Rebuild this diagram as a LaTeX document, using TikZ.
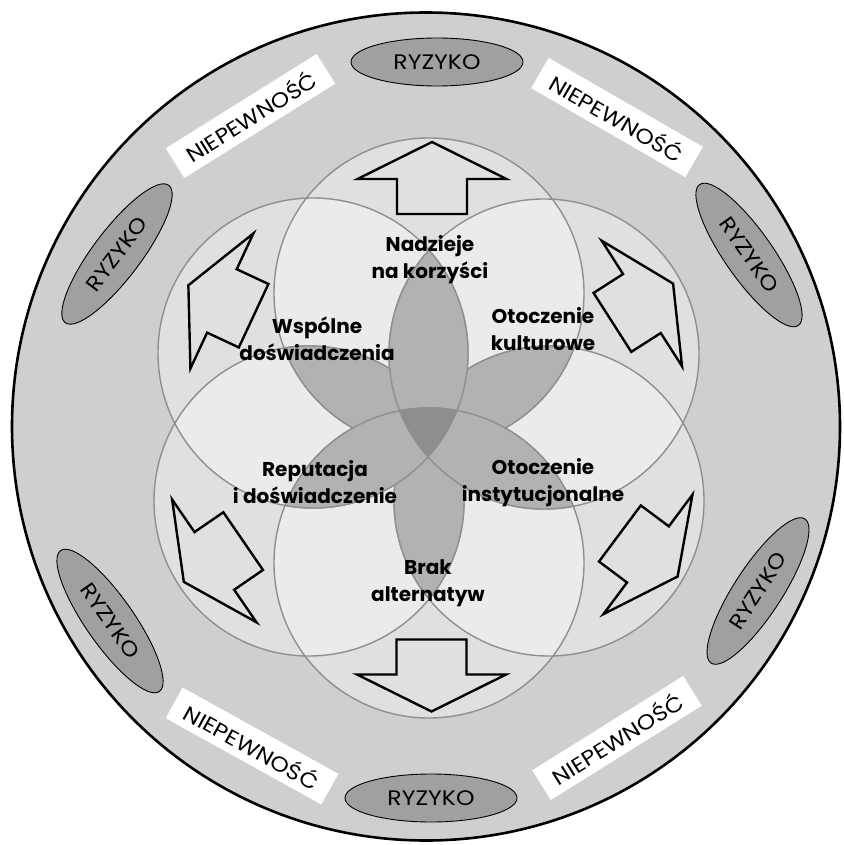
\documentclass[tikz,border=0pt]{standalone}
\usepackage{fontspec}
\setmainfont{Poppins}
\usetikzlibrary{shapes.geometric}

\definecolor{ringgray}{HTML}{CFCFCF}
\definecolor{petalone}{HTML}{E0E0E0}
\definecolor{petaltwo}{HTML}{EBEBEB}
\definecolor{lensgray}{HTML}{B2B2B2}
\definecolor{coregray}{HTML}{8E8E8E}
\definecolor{rimgray}{HTML}{8F8F8F}
\definecolor{riskgray}{HTML}{A0A0A0}

\newcommand{\petalrad}{155pt}
% ring captions: slightly widened capitals
\newcommand{\ringtext}[1]{\scalebox{1.12}[1]{#1}}

\tikzset{
  ringfill/.style={fill=ringgray, draw=black, line width=2.6pt},
  single/.style={fill=petalone},
  double/.style={fill=petaltwo},
  rim/.style={draw=rimgray, line width=1.4pt},
  lens/.style={fill=lensgray},
  core/.style={fill=coregray},
  arrowline/.style={draw=black, line width=2.4pt, line join=miter},
  lbl/.style={font=\bfseries\fontsize{20}{27}\selectfont, align=center, inner sep=0pt},
  riskbox/.style={shape=ellipse, draw=black, line width=0.9pt, fill=riskgray,
    minimum width=172pt, minimum height=48pt, inner sep=0pt,
    font=\fontsize{21}{24}\selectfont},
  doubtbox/.style={fill=white, minimum width=178pt, minimum height=35pt,
    inner sep=0pt, font=\fontsize{21}{24}\selectfont},
  pics/outarrow/.style={code={
    \draw[arrowline] (36,0) -- (-1,74.5) -- (-1,35) -- (-36,35) -- (-36,-35)
      -- (-1,-35) -- (-1,-74.5) -- cycle;}},
}

\begin{document}
\begin{tikzpicture}[x=1pt, y=-1pt]
  \useasboundingbox (0,0) rectangle (843,845);
  \fill[white] (0,0) rectangle (843,845);

  % outer ring
  \coordinate (mid) at (426,426.5);
  \draw[ringfill] (mid) circle[radius=414pt];

  % centres of the six circles
  \coordinate (cT)  at (429,293);
  \coordinate (cB)  at (429,563);
  \coordinate (cUL) at (313,353);
  \coordinate (cUR) at (544,354);
  \coordinate (cLL) at (309,501);
  \coordinate (cLR) at (549,501);

  % single cover
  \foreach \c in {cT,cUR,cLR,cB,cLL,cUL}
    \fill[single] (\c) circle[radius=\petalrad];
  % overlaps of two circles
  \foreach \a/\b in {cT/cUR, cT/cLR, cT/cB, cT/cLL, cT/cUL, cUR/cLR, cUR/cB,
      cUR/cLL, cUR/cUL, cLR/cB, cLR/cLL, cLR/cUL, cB/cLL, cB/cUL, cLL/cUL} {
    \begin{scope}
      \clip (\a) circle[radius=\petalrad];
      \fill[double] (\b) circle[radius=\petalrad];
    \end{scope}
  }
  \foreach \c in {cT,cUR,cLR,cB,cLL,cUL}
    \draw[rim] (\c) circle[radius=\petalrad];

  % petals: lower layer first, then upper layer
  \foreach \a/\b in {cT/cLL, cT/cLR, cLL/cLR, cUL/cUR, cUL/cB, cUR/cB} {
    \begin{scope}
      \clip (\a) circle[radius=\petalrad];
      \fill[lens] (\b) circle[radius=\petalrad];
      \draw[rim] (\b) circle[radius=\petalrad];
    \end{scope}
    \begin{scope}
      \clip (\b) circle[radius=\petalrad];
      \draw[rim] (\a) circle[radius=\petalrad];
    \end{scope}
  }

  % dark core
  \begin{scope}
    \clip (cUL) circle[radius=\petalrad];
    \clip (cUR) circle[radius=\petalrad];
    \fill[core] (cB) circle[radius=\petalrad];
    \draw[rim] (cB) circle[radius=\petalrad];
  \end{scope}
  \begin{scope}
    \clip (cUR) circle[radius=\petalrad];
    \clip (cB) circle[radius=\petalrad];
    \draw[rim] (cUL) circle[radius=\petalrad];
  \end{scope}
  \begin{scope}
    \clip (cUL) circle[radius=\petalrad];
    \clip (cB) circle[radius=\petalrad];
    \draw[rim] (cUR) circle[radius=\petalrad];
  \end{scope}

  % outward arrows
  \pic[rotate=90]    at (432,178)     {outarrow};
  \pic[rotate=270]   at (431.5,675.5) {outarrow};
  \pic[rotate=155]   at (221,300.5)   {outarrow};
  \pic[rotate=214.5] at (213.5,561.5) {outarrow};
  \pic[rotate=32.6]  at (642.75,303)  {outarrow};
  \pic[rotate=-36.7] at (648.75,555)  {outarrow};

  % factor labels
  \node[lbl] (hope)  at (430,260)   {Nadzieje\\na korzyści};
  \node[lbl] (share) at (317,338.5) {Wspólne\\doświadczenia};
  \node[lbl] (cult)  at (543,329.5) {Otoczenie\\kulturowe};
  \node[lbl] (rep)   at (315,482.5) {Reputacja\\i doświadczenie};
  \node[lbl] (inst)  at (543,482.5) {Otoczenie\\instytucjonalne};
  \node[lbl] (alt)   at (428,583.5) {Brak\\alternatyw};

  % risk ellipses in the ring
  \node[riskbox]            (rT)  at (437,62)  {\ringtext{RYZYKO}};
  \node[riskbox]            (rB)  at (431,798) {\ringtext{RYZYKO}};
  \node[riskbox, rotate=53] (rUL) at (117,254) {\ringtext{RYZYKO}};
  \node[riskbox, rotate=-55](rUR) at (749,255) {\ringtext{RYZYKO}};
  \node[riskbox, rotate=-55](rLL) at (110,621) {\ringtext{RYZYKO}};
  \node[riskbox, rotate=57] (rLR) at (758,591) {\ringtext{RYZYKO}};

  % uncertainty labels in the ring
  \node[doubtbox, rotate=32]  (uUL) at (250.5,116) {\ringtext{NIEPEWNOŚĆ}};
  \node[doubtbox, rotate=-30] (uUR) at (617,117.5) {\ringtext{NIEPEWNOŚĆ}};
  \node[doubtbox, rotate=-29] (uLL) at (252,746)   {\ringtext{NIEPEWNOŚĆ}};
  \node[doubtbox, rotate=32]  (uLR) at (617,738)   {\ringtext{NIEPEWNOŚĆ}};
\end{tikzpicture}
\end{document}
